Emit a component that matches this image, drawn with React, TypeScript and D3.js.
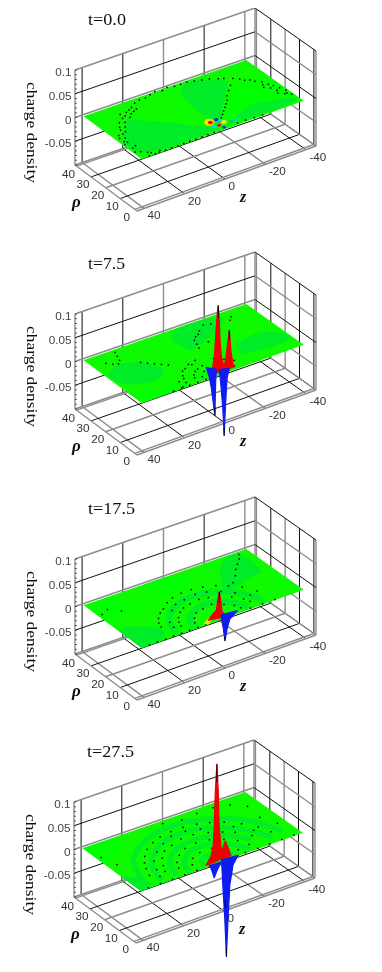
import React from 'react';
import * as d3 from 'd3';

type Pt = [number, number];
type Pt3 = [number, number, number];

const zTicks = [40, 20, 0, -20, -40];
const rhoTicks = [40, 30, 20, 10, 0];
const cTicks = [0.1, 0.05, 0, -0.05];
const titles = ['t=0.0', 't=7.5', 't=17.5', 't=27.5'];
const titleWidths = [38, 37, 47, 47];

// wall / floor line colours, the picture alternates them
const zLineDark = [true, true, false, true, false];
const rhoFloorDark = [false, true, false, true, false];
const cBackDark = [false, true, false, true, false];
const rhoWallDark = [false, true, false, true, false];

const GRAY = '#8c8c8c';
const BASE = '#0cfa00';
const BRIGHT = '#00ff00';
const DEEP = '#00ec26';

// charge density dots, (z, rho)
const dots0: Pt[] = [[39, 13], [38, 15], [37, 14], [38, 18], [36, 17], [37, 20], [35, 20], [34, 23], [33, 21], [33, 25], [31, 24], [31, 28], [29, 27], [28, 30], [26, 31], [27, 33], [24, 33], [25, 29], [22, 34], [23, 31], [20, 35], [21, 32], [19, 33], [17, 37], [14, 38], [11, 38], [8, 39], [5, 40], [2, 39], [-1, 40], [-4, 39], [-7, 39], [-10, 39], [-13, 38], [-16, 37], [-19, 36], [-22, 34], [-24, 33], [-27, 31], [-29, 29], [-30, 27], [-32, 26], [-33, 24], [-35, 22], [-34, 20], [-36, 19], [-37, 17], [-35, 16], [-38, 14], [-36, 13], [-39, 11], [-37, 9], [-39, 7], [-33, 18], [-38, 9], [-35, 11], [-3, 6], [-5, 8], [-7, 10], [-9, 12], [-11, 14], [-13, 16], [-15, 18], [-17, 21], [-20, 24], [-23, 27], [36, 0.5], [33, 0.4], [31, 0.6], [28, 0.4], [25, 0.5], [22, 0.4], [19, 0.4], [16, 0.5], [13, 0.4], [10, 0.4], [7, 0.5], [4, 0.5], [-8, 1], [-12, 1], [-16, 0.6], [-20, 0.5], [39, 6], [37, 5], [35, 3], [38, 9], [36, 10], [34, 2], [30, 1.5]];
const dots1: Pt[] = [[11, 4], [10, 6], [8, 8], [6, 9], [3, 10], [16, 3], [15, 6], [14, 8], [12, 11], [10, 12], [7, 14], [3, 15], [19, 1], [18, 5], [26, 38], [27, 35], [28, 32], [22, 26], [20, 24], [18, 22], [16, 20], [14, 18], [30, 30], [32, 31], [34, 33], [-29, 35], [-27, 33], [-22, 35], [-19, 35], [-16, 36], [-12, 33], [-10, 31], [-8, 30], [-6, 28], [-4, 12], [-7, 9], [-10, 6], [24, 0.5], [20, 0.5], [16, 0.5], [12, 0.5], [8, 0.5], [6, 13], [5, 6], [8, 3], [-5, 25], [-4, 22], [-10, 24]];
const dots2: Pt[] = [[24, 9], [23, 12], [21, 15], [18, 18], [15, 20], [11, 23], [7, 25], [2, 26], [-3, 26], [-8, 25], [-13, 23], [-17, 20], [-21, 16], [-24, 10], [17, 5], [16, 8], [14, 11], [11, 14], [8, 16], [4, 17], [-1, 18], [-5, 17], [-9, 15], [-13, 12], [-16, 8], [-17, 5], [11, 4], [9, 7], [6, 10], [2, 11], [-3, 12], [-7, 9], [-10, 6], [-11, 3], [-20, 21], [-24, 25], [-27, 29], [-30, 32], [-33, 35], [-35, 38], [30, 28], [34, 32], [38, 30], [36, 0.4], [32, 0.5], [28, 0.4], [24, 0.5], [20, 0.4], [16, 0.5], [12, 0.4], [8, 0.5], [-14, 0.5], [-20, 0.5], [-26, 0.4], [13, 17], [9, 20], [4, 21], [-2, 22], [-7, 21], [-12, 18], [-16, 14], [-20, 9], [20, 6], [19, 10]];
const dots3: Pt[] = [[30, 8], [28, 13], [26, 17], [23, 21], [19, 25], [14, 28], [9, 30], [3, 31], [-3, 31], [-9, 30], [-14, 28], [-19, 25], [-24, 20], [-28, 14], [-30, 8], [23, 7], [21, 11], [18, 16], [14, 20], [9, 22], [3, 24], [-3, 24], [-9, 22], [-14, 19], [-18, 16], [-22, 10], [17, 6], [15, 10], [11, 14], [6, 17], [0, 18], [-6, 17], [-11, 14], [-15, 10], [-17, 5], [11, 5], [8, 9], [3, 11], [-3, 11], [-8, 8], [-11, 4], [-34, 30], [-29, 35], [-22, 37], [-14, 37], [-6, 36], [2, 38], [36, 22], [38, 30], [36, 0.5], [30, 0.4], [24, 0.5], [18, 0.4], [12, 0.5], [-12, 0.5], [-18, 0.4], [-24, 0.5], [-30, 0.4], [-36, 0.5], [27, 5], [25, 10], [22, 16], [17, 21], [11, 25], [5, 28], [-2, 28], [-8, 26], [-14, 24], [-20, 20], [-25, 13], [-33, 20], [-36, 12]];
const dotSets = [dots0, dots1, dots2, dots3];

// contour regions on the plane, (z, rho)
const regions0: { fill: string; pts: Pt[] }[] = [
  { fill: DEEP, pts: [[0, 2], [40, 0], [40, 14], [27, 29]] },
  { fill: DEEP, pts: [[0, 3], [-1, 38], [-15, 40], [-24, 30]] },
  { fill: BRIGHT, pts: [[-3, 3], [-24, 30], [-40, 25], [-40, 5]] },
  { fill: DEEP, pts: [[-3, 2], [-40, 0], [-40, 5], [-20, 10]] },
];
const regions1: { fill: string; pts: Pt[] }[] = [
  { fill: DEEP, pts: [[31, 30], [22, 28], [15, 16], [25, 9], [39, 15], [39, 25]] },
  { fill: DEEP, pts: [[-15, 8], [-40, 4], [-40, 14], [-30, 20], [-18, 16]] },
  { fill: DEEP, pts: [[0, 22], [-12, 26], [-30, 36], [-18, 40], [-2, 40], [2, 32]] },
  { fill: BRIGHT, pts: [[14, 0], [40, 0], [40, 8], [22, 6]] },
];
const regions2: { fill: string; pts: Pt[] }[] = [
  { fill: DEEP, pts: [[40, 0], [28, 0], [22, 8], [35, 18], [40, 16]] },
  { fill: DEEP, pts: [[-12, 16], [-25, 40], [-38, 40], [-35, 22]] },
  { fill: BRIGHT, pts: [[10, 40], [-10, 40], [-6, 28], [12, 27]] },
  { fill: BRIGHT, pts: [[40, 25], [40, 40], [25, 40], [22, 26]] },
];
const regions3: { fill: string; pts: Pt[] }[] = [
  { fill: DEEP, pts: [[40, 0], [32, 0], [34, 10], [40, 14]] },
  { fill: BRIGHT, pts: [[40, 40], [20, 40], [30, 28], [40, 24]] },
];
const regionSets = [regions0, regions1, regions2, regions3];

// darker rings round the source, (z, rho)
const bands2: Pt[][] = [
  [[13, 1], [12, 6], [9, 10], [4, 13], [-2, 14], [-8, 12], [-12, 7], [-14, 2]],
  [[22, 1], [20, 9], [16, 15], [9, 20], [1, 22], [-7, 21], [-15, 16], [-20, 9], [-22, 2]],
];
const bands3: Pt[][] = [
  [[8, 1], [7, 5], [4, 7], [-1, 8], [-5, 6], [-8, 2]],
  [[15, 1], [14, 7], [10, 12], [4, 15], [-3, 15], [-9, 12], [-13, 7], [-15, 2]],
  [[21, 2], [19, 10], [14, 16], [7, 20], [-1, 21], [-9, 19], [-15, 15], [-20, 8]],
  [[28, 2], [26, 12], [20, 20], [12, 26], [2, 28], [-8, 27], [-17, 22], [-24, 14], [-28, 4]],
  [[35, 2], [33, 14], [27, 24], [17, 31], [5, 35], [-8, 34], [-20, 29], [-29, 20], [-34, 6]],
];
const bandSets: Pt[][][] = [[], [], bands2, bands3];

// source blob at t=0: z, rho, radius, colour
const blob: [number, number, number, string][] = [
  [1, 8, 5, '#ffe000'], [-4, 5, 3, '#ffe000'], [0.7, 7.6, 2.6, '#ff0000'], [1.2, 4.2, 2.4, '#00d8ff'],
  [-0.9, 3.8, 2, '#ff0000'], [-2.6, 8.2, 2.2, '#0020ff'], [-3.5, 6.6, 2, '#00d8ff'], [-1.6, 1.4, 2, '#0020ff'],
  [-7, 4, 1.8, '#00c080'], [-9, 3, 1.6, '#00d8ff'],
];

// peaks, (z, charge density) along rho = 2
const red1: Pt[] = [[5, 0], [3.8, 0.011], [2.8, 0.035], [2.3, 0.065], [1.8, 0.096], [1.1, 0.135], [0.8, 0.141], [0.3, 0.105], [-0.1, 0.062], [-0.6, 0.036], [-1.6, 0.013], [-2.6, 0.016], [-3.6, 0.046], [-4.1, 0.062], [-4.6, 0.08], [-5, 0.061], [-5.5, 0.033], [-6.5, 0.006], [-7.5, 0]];
const blue1a: Pt[] = [[6.7, 0.0196], [5.2, -0.004], [4.3, -0.026], [3.3, -0.059], [2.5, -0.088], [2.3, -0.05], [2.1, -0.019], [1.8, 0.008]];
const blue1b: Pt[] = [[0.3, 0.006], [-0.6, -0.034], [-1.4, -0.077], [-2.1, -0.137], [-2.6, -0.089], [-3.1, -0.048], [-3.6, -0.017], [-4.6, 0]];
const red2: Pt[] = [[5.7, 0.002], [3.3, 0.012], [1.7, 0.017], [1.2, 0.034], [0.3, 0.053], [-0.5, 0.031], [-1.1, 0.009], [-2.1, 0.004], [0, -0.002], [4.1, 0.001]];
const yellow2: Pt[] = [[7.5, -0.002], [5, 0.006], [4, 0.002], [6, -0.006]];
const blue2: Pt[] = [[-0.8, 0.003], [-8.6, 0], [-6.5, -0.007], [-4.9, -0.012], [-3.7, -0.028], [-2.5, -0.054], [-1.6, -0.025], [-0.8, -0.006]];
const red3: Pt[] = [[6.4, -0.001], [3.9, 0.013], [2.8, 0.035], [2.3, 0.077], [1.8, 0.146], [1, 0.203], [0.3, 0.144], [-0.1, 0.073], [-1, 0.026], [-1.8, 0.018], [-3.1, 0.035], [-4.7, 0.017], [-5.9, 0], [-1.8, 0], [4.8, -0.002]];
const blue3a: Pt[] = [[4.8, -0.005], [-1.3, -0.006], [0, -0.014], [1.2, -0.023], [2.3, -0.034], [3.3, -0.02], [3.9, -0.012]];
const blue3b: Pt[] = [[-1.3, -0.002], [-2.1, -0.07], [-2.9, -0.128], [-3.7, -0.209], [-4.6, -0.123], [-5.4, -0.061], [-7, -0.021], [-9.5, -0.005]];
const peakSets: { fill: string; pts: Pt[] }[][] = [
  [],
  [{ fill: '#f00000', pts: red1 }, { fill: '#0a1cf0', pts: blue1a }, { fill: '#0a1cf0', pts: blue1b }],
  [{ fill: '#ffe000', pts: yellow2 }, { fill: '#f00000', pts: red2 }, { fill: '#0a1cf0', pts: blue2 }],
  [{ fill: '#f00000', pts: red3 }, { fill: '#0a1cf0', pts: blue3a }, { fill: '#0a1cf0', pts: blue3b }],
];

// dark tips on the peaks: z, c from, c to
const ridges: [number, number, number][][] = [
  [],
  [[0.8, 0.115, 0.141], [-4.6, 0.06, 0.08], [2.5, -0.07, -0.088], [-2.1, -0.12, -0.137]],
  [[0.3, 0.03, 0.053], [-2.5, -0.045, -0.054]],
  [[1, 0.165, 0.203], [-3.7, -0.19, -0.209], [-3.1, -0.09, -0.105]],
];

const panelDx = [0, 0, 0, -1];
const panelDy = [0, 244, 489, 732];

const zScale = d3.scaleLinear().domain([43.5, -45]).range([0, 1]);
const rhoScale = d3.scaleLinear().domain([41, -1.5]).range([0, 1]);
const cScale = d3.scaleLinear().domain([-0.1, 0.1]).range([0, 1]);

// the box is placed by its four floor corners, then lifted by c
const backLeft: Pt = [75, 165];
const backRight: Pt = [255, 103];
const frontLeft: Pt = [137, 211];
const frontRight: Pt = [316, 146];
const boxHeight = 95;

function project([z, rho, c]: Pt3): Pt {
  const t = zScale(z);
  const s = rhoScale(rho);
  const back = d3.interpolateArray(backLeft, backRight)(t);
  const front = d3.interpolateArray(frontLeft, frontRight)(t);
  const x = back[0] + (front[0] - back[0]) * s;
  const y = back[1] + (front[1] - back[1]) * s;
  return [x, y - boxHeight * cScale(c)];
}

const line = d3.line<Pt>();
const smooth = d3.line<Pt>().curve(d3.curveBasis);
const onPlane = (pts: Pt[]) => pts.map(([z, rho]) => project([z, rho, 0]));
const peakPath = (pts: Pt[]) => line(pts.map(([z, c]) => project([z, 2, c])))! + 'Z';

const sans = 'Liberation Sans, Arial, sans-serif';
const serif = 'Liberation Serif, Times New Roman, serif';

function Seg({ a, b, dark }: { a: Pt3; b: Pt3; dark: boolean }) {
  const p = project(a);
  const q = project(b);
  return (
    <line x1={p[0]} y1={p[1]} x2={q[0]} y2={q[1]} stroke={dark ? '#111' : GRAY} strokeWidth={dark ? 1 : 1.4} />
  );
}

function Panel({ i }: { i: number }) {
  const [zA, zB] = zScale.domain();
  const [rA, rB] = rhoScale.domain();
  const [cA, cB] = cScale.domain();
  const corners: Pt[] = [[40, 40], [-40, 40], [-40, 0], [40, 0]];
  const leftAxis = project([zA, rA, 0]);
  return (
    <g transform={`translate(${panelDx[i]},${panelDy[i]})`}>
      <text x={88} y={25} fontFamily={serif} fontSize={17} fill="#111" textLength={titleWidths[i]} lengthAdjust="spacingAndGlyphs">
        {titles[i]}
      </text>

      {/* back wall */}
      {zTicks.map((z, k) => <Seg key={z} a={[z, rA, cA]} b={[z, rA, cB]} dark={zLineDark[k]} />)}
      {[...cTicks, -0.1].map((c, k) => <Seg key={c} a={[zA, rA, c]} b={[zB, rA, c]} dark={cBackDark[k]} />)}
      <Seg a={[zA, rA, cA]} b={[zA, rA, cB]} dark={false} />
      <Seg a={[zB, rA, cA]} b={[zB, rA, cB]} dark={false} />

      {/* right wall */}
      {rhoTicks.map((r, k) => <Seg key={r} a={[zB, r, cA]} b={[zB, r, cB]} dark={k % 2 === 1 || k === 4} />)}
      <Seg a={[zB, rB, cA]} b={[zB, rB, cB]} dark={false} />
      {[...cTicks, -0.1].map((c, k) => <Seg key={c} a={[zB, rA, c]} b={[zB, rB, c]} dark={!rhoWallDark[k]} />)}

      {/* floor */}
      {zTicks.map((z, k) => <Seg key={z} a={[z, rA, cA]} b={[z, rB, cA]} dark={[false, true, true, false, true][k]} />)}
      {rhoTicks.map((r, k) => <Seg key={r} a={[zA, r, cA]} b={[zB, r, cA]} dark={rhoFloorDark[k]} />)}
      <Seg a={[zA, rA, cA]} b={[zA, rB, cA]} dark={false} />
      <Seg a={[zA, rB, cA]} b={[zB, rB, cA]} dark={false} />
      <Seg a={[zB, rA, cA]} b={[zB, rB, cA]} dark={false} />

      {/* small ticks on the charge axis */}
      {cScale.ticks(20).map(c => {
        const p = project([zA, rA, c]);
        return <line key={c} x1={p[0]} x2={p[0] + 2} y1={p[1]} y2={p[1]} stroke="#222" strokeWidth={0.7} />;
      })}

      {/* plane */}
      <path d={line(onPlane(corners))! + 'Z'} fill={BASE} />
      <clipPath id={`plane${i}`}>
        <path d={line(onPlane(corners))! + 'Z'} />
      </clipPath>
      <g clipPath={`url(#plane${i})`}>
        {regionSets[i].map((r, k) => <path key={k} d={smooth(onPlane(r.pts))! + 'Z'} fill={r.fill} />)}
        {bandSets[i].map((b, k) => <path key={k} d={smooth(onPlane(b))!} fill="none" stroke={DEEP} strokeWidth={i === 3 ? 5 : 6} />)}
      </g>
      {dotSets[i].map(([z, rho], k) => {
        const p = project([z, rho, 0]);
        return <rect key={k} x={p[0] - 0.75} y={p[1] - 0.75} width={1.5} height={1.5} fill="#000" />;
      })}

      {/* source blob only in the first frame */}
      {i === 0 && blob.map(([z, rho, r, col], k) => {
        const p = project([z, rho, 0]);
        return <ellipse key={k} cx={p[0]} cy={p[1]} rx={r} ry={r * 0.7} fill={col} />;
      })}

      {peakSets[i].map((s, k) => <path key={k} d={peakPath(s.pts)} fill={s.fill} stroke={s.fill} strokeWidth={1.2} strokeLinejoin="round" />)}
      {ridges[i].map(([z, c0, c1], k) => {
        const p = project([z, 2, c0]);
        const q = project([z, 2, c1]);
        return <line key={k} x1={p[0]} y1={p[1]} x2={q[0]} y2={q[1]} stroke="#000" strokeWidth={1} />;
      })}

      {/* labels */}
      {cTicks.map(c => (
        <text key={c} x={leftAxis[0] - 3.5} y={project([zA, rA, c])[1] + 6} textAnchor="end" fontFamily={sans} fontSize={11.7} fill="#444">
          {c}
        </text>
      ))}
      {rhoTicks.map(r => {
        const p = project([zA, r, cA]);
        return <text key={r} x={p[0] - 8} y={p[1] + 11.5} textAnchor="middle" fontFamily={sans} fontSize={11.7} fill="#333">{r}</text>;
      })}
      {zTicks.map(z => {
        const p = project([z, rB, cA]);
        return <text key={z} x={p[0] + 3.5} y={p[1] + 11} fontFamily={sans} fontSize={11.7} fill="#333">{z}</text>;
      })}
      <text x={72} y={207} fontFamily={serif} fontStyle="italic" fontWeight="bold" fontSize={17} fill="#111">ρ</text>
      <text x={240} y={202} fontFamily={serif} fontStyle="italic" fontWeight="bold" fontSize={16} fill="#111">z</text>
      <text transform="translate(27,82) rotate(90)" fontFamily={serif} fontSize={15} fill="#111" textLength={101} lengthAdjust="spacingAndGlyphs">
        charge density
      </text>
    </g>
  );
}

export default function App() {
  return (
    <svg width={382} height={972} style={{ position: 'absolute', left: 0, top: 0, background: '#fff' }}>
      <defs>
        <filter id="soft" x="0" y="0" width="100%" height="100%">
          <feGaussianBlur stdDeviation="0.4" />
        </filter>
      </defs>
      <g filter="url(#soft)">
        {titles.map((_, i) => <Panel key={i} i={i} />)}
      </g>
    </svg>
  );
}
